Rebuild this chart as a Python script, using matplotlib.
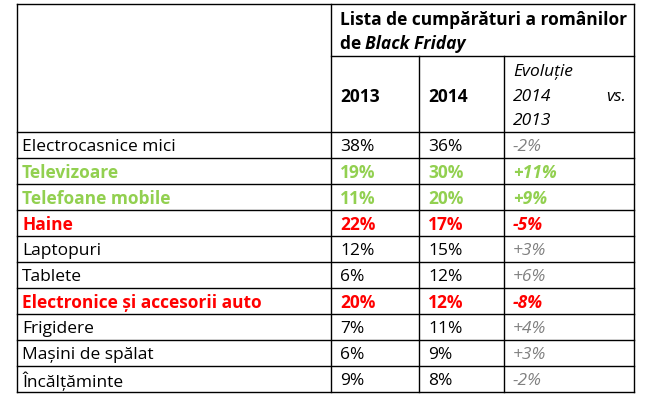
import matplotlib.pyplot as plt

plt.rcParams['font.family'] = ['Open Sans', 'DejaVu Sans']

products = ["Electrocasnice mici", "Televizoare", "Telefoane mobile", "Haine",
            "Laptopuri", "Tablete", "Electronice și accesorii auto", "Frigidere",
            "Mașini de spălat", "Încălțăminte"]
v2013 = ["38%", "19%", "11%", "22%", "12%", "6%", "20%", "7%", "6%", "9%"]
v2014 = ["36%", "30%", "20%", "17%", "15%", "12%", "12%", "11%", "9%", "8%"]
evol = ["-2%", "+11%", "+9%", "-5%", "+3%", "+6%", "-8%", "+4%", "+3%", "-2%"]
# highlight: 0 normal, 1 green, 2 red
highlight = [0, 1, 1, 2, 0, 0, 2, 0, 0, 0]

GREEN = "#92D050"
RED = "#FF0000"
GREY = "#808080"

W, H = 656, 402
fig = plt.figure(figsize=(W / 100, H / 100), dpi=100)
ax = fig.add_axes([0, 0, 1, 1])
ax.set_xlim(0, W)
ax.set_ylim(H, 0)
ax.axis("off")

xs = [17, 331, 419, 504, 634]
top, hsplit, hbottom = 5, 57, 133
rh = 26
bottom = hbottom + rh * len(products)
lw = 1.0
ax.plot([xs[0], xs[-1]], [top, top], color="black", lw=lw)
ax.plot([xs[1], xs[-1]], [hsplit, hsplit], color="black", lw=lw)
for i in range(len(products) + 1):
    y = hbottom + i * rh
    ax.plot([xs[0], xs[-1]], [y, y], color="black", lw=lw)
ax.plot([xs[0], xs[0]], [top, bottom], color="black", lw=lw)
ax.plot([xs[1], xs[1]], [top, bottom], color="black", lw=lw)
ax.plot([xs[-1], xs[-1]], [top, bottom], color="black", lw=lw)
ax.plot([xs[2], xs[2]], [hsplit, bottom], color="black", lw=lw)
ax.plot([xs[3], xs[3]], [hsplit, bottom], color="black", lw=lw)

fs = 12.5
ax.text(xs[1] + 9, 20, "Lista de cumpărături a românilor", fontsize=fs, fontweight="bold", va="center")
ax.text(xs[1] + 9, 44, "de ", fontsize=fs, fontweight="bold", va="center")
ax.text(xs[1] + 34, 44, "Black Friday", fontsize=fs, fontweight="bold", style="italic", va="center")
ax.text(xs[1] + 9, 97, "2013", fontsize=fs, fontweight="bold", va="center")
ax.text(xs[2] + 9, 97, "2014", fontsize=fs, fontweight="bold", va="center")
ax.text(xs[3] + 9, 72, "Evoluție", fontsize=fs, style="italic", va="center")
ax.text(xs[3] + 9, 97, "2014", fontsize=fs, style="italic", va="center")
ax.text(xs[4] - 8, 97, "vs.", fontsize=fs, style="italic", va="center", ha="right")
ax.text(xs[3] + 9, 121, "2013", fontsize=fs, style="italic", va="center")

for i, name in enumerate(products):
    y = hbottom + i * rh + rh / 2 + 1
    h = highlight[i]
    color = {0: "black", 1: GREEN, 2: RED}[h]
    weight = "bold" if h else "normal"
    ecolor = GREY if h == 0 else color
    ax.text(xs[0] + 5, y, name, fontsize=fs, color=color, fontweight=weight, va="center")
    ax.text(xs[1] + 9, y, v2013[i], fontsize=fs, color=color, fontweight=weight, va="center")
    ax.text(xs[2] + 9, y, v2014[i], fontsize=fs, color=color, fontweight=weight, va="center")
    ax.text(xs[3] + 9, y, evol[i], fontsize=fs, color=ecolor, fontweight=weight,
            style="italic", va="center")

fig.savefig("out.png", dpi=100)
